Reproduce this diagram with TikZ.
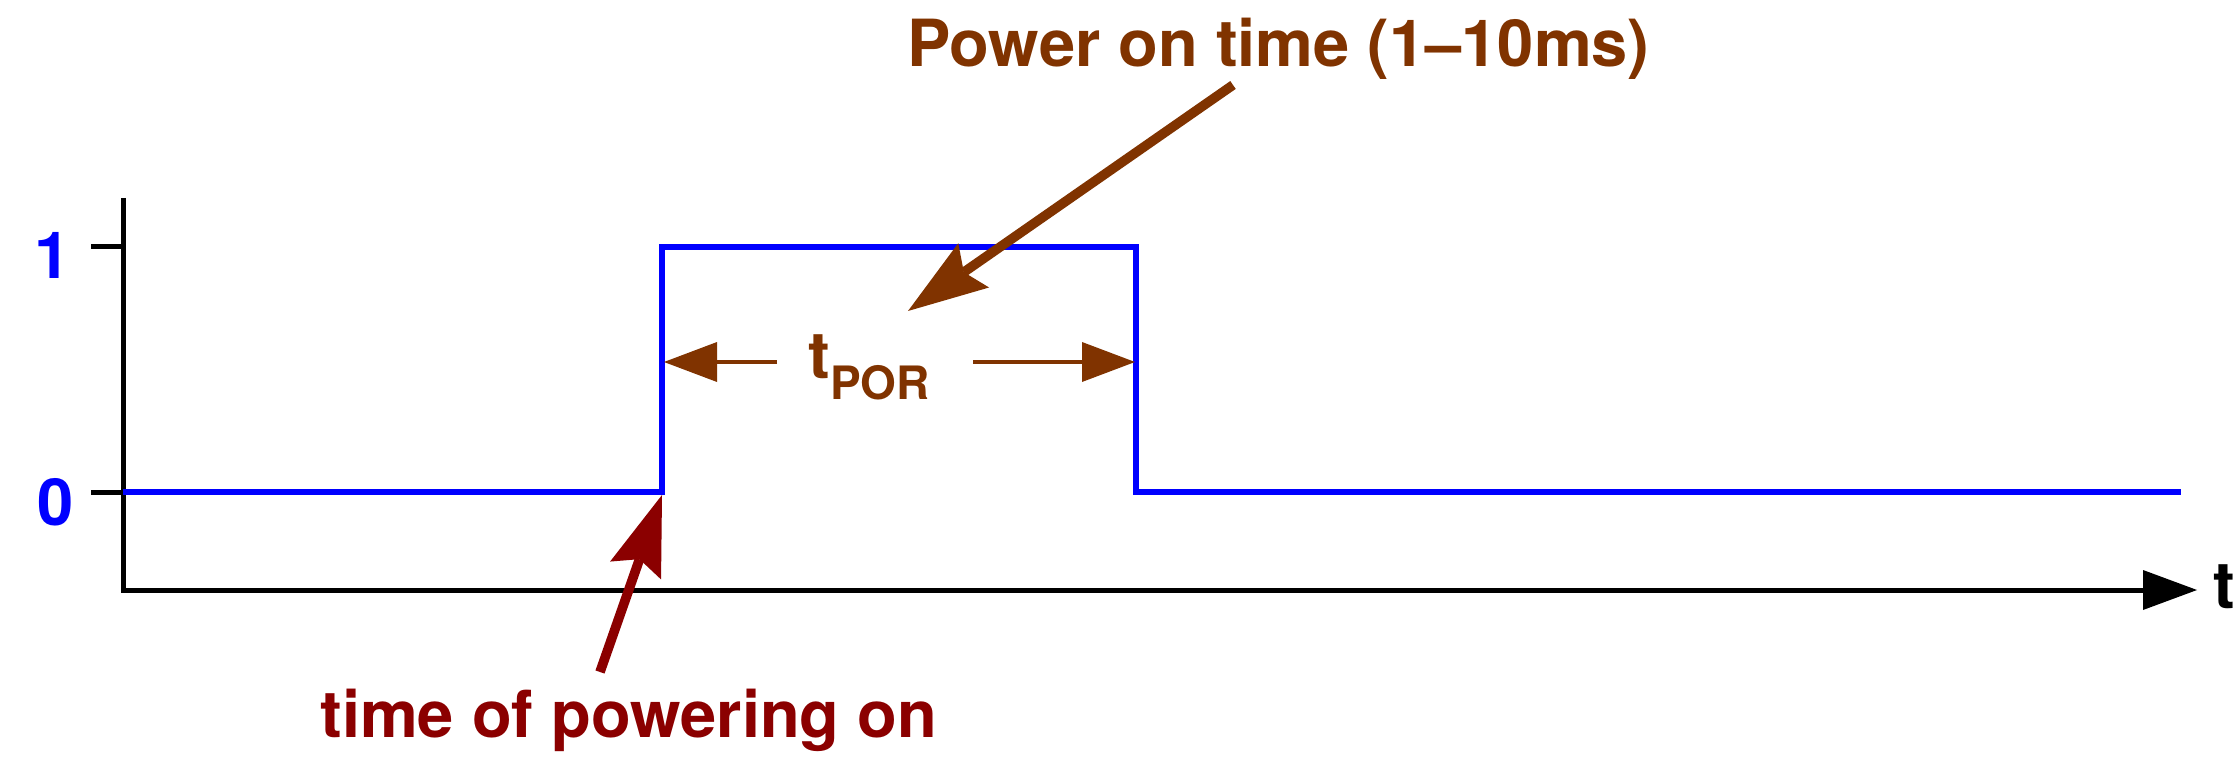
\documentclass[tikz,border=0pt]{standalone}
\usepackage{fontspec}
\setmainfont{TeX Gyre Heros}
\usetikzlibrary{arrows.meta}
\definecolor{sigblue}{RGB}{0,0,255}
\definecolor{porbrown}{RGB}{128,51,0}
\definecolor{pwrred}{RGB}{139,0,0}
\begin{document}
\begin{tikzpicture}[x=0.5pt,y=-0.5pt,
  lbl/.style={inner sep=0pt,font=\fontsize{32.5pt}{39pt}\selectfont\bfseries},
  axisline/.style={line width=2.5pt,black},
  sig/.style={line width=2.6pt,sigblue},
  dimarrow/.style={line width=2.4pt,porbrown,-{Triangle[length=26.5pt,width=20pt,line width=0pt]}},
  callout/.style={line width=4.8pt,-{Stealth[length=40pt,width=27pt,inset=6pt,line width=0pt]}}]
\useasboundingbox (0,0) rectangle (2239,759);
% axes
\coordinate (ytop) at (123,198);
\coordinate (origin) at (123,590);
\coordinate (xend) at (2197,590);
\draw[axisline,-{Triangle[length=27pt,width=20pt,line width=0pt]}] (ytop) -- (origin) -- (xend);
\coordinate (tickonea) at (91,247);
\coordinate (tickoneb) at (123,247);
\coordinate (tickzeroa) at (91,492);
\coordinate (tickzerob) at (123,492);
\draw[axisline] (tickonea) -- (tickoneb);
\draw[axisline] (tickzeroa) -- (tickzerob);
% signal
\coordinate (sigstart) at (123,492);
\coordinate (riselo) at (662,492);
\coordinate (risehi) at (662,247);
\coordinate (fallhi) at (1136,247);
\coordinate (falllo) at (1136,492);
\coordinate (sigend) at (2181,492);
\draw[sig] (sigstart) -- (riselo) -- (risehi) -- (fallhi) -- (falllo) -- (sigend);
% labels
\node[lbl,text=sigblue,anchor=base] (one) at (53,279) {1};
\node[lbl,text=sigblue,anchor=base] (zero) at (56,525) {0};
\node[lbl,anchor=base] (tlabel) at (2224,608) {t};
\node[lbl,text=porbrown,anchor=base west] (ponlabel) at (907,67) {Power on time (1–10ms)};
\node[lbl,text=pwrred,anchor=base west] (powlabel) at (320,737) {time of powering on};
\node[lbl,text=porbrown,anchor=base west] (tpor) at (808,379) {t\fontsize{23pt}{28pt}\selectfont\raisebox{-10.5pt}{POR}};
% dimension arrows
\coordinate (lstart) at (777,362);
\coordinate (lend) at (664,362);
\draw[dimarrow] (lstart) -- (lend);
\coordinate (rstart) at (973,362);
\coordinate (rend) at (1135,362);
\draw[dimarrow] (rstart) -- (rend);
% callouts
\coordinate (pontail) at (1233,85);
\coordinate (pontip) at (908,311);
\draw[callout,porbrown] (pontail) -- (pontip);
\coordinate (pwrtail) at (600,672);
\coordinate (pwrtip) at (662,495);
\draw[callout,pwrred] (pwrtail) -- (pwrtip);
\end{tikzpicture}
\end{document}
